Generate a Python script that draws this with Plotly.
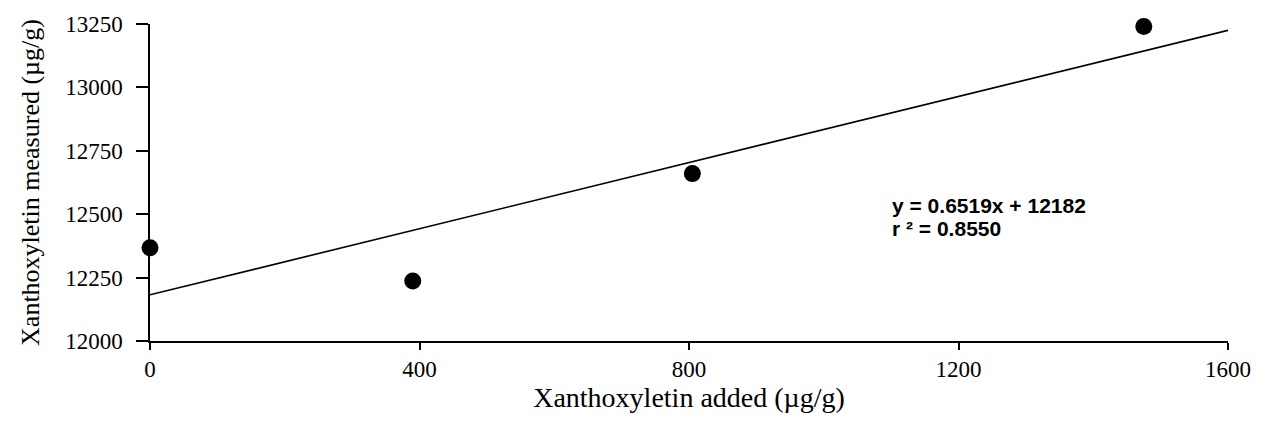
import plotly.graph_objects as go

# Spiked samples: amount of xanthoxyletin added vs. amount measured (µg/g)
added = [0, 390, 805, 1475]
measured = [12368, 12237, 12660, 13240]

# Least-squares fit reported on the chart
slope = 0.6519
intercept = 12182
r_squared = 0.8550
fit_x = [0, 1600]
fit_y = [slope * x + intercept for x in fit_x]

x_ticks = [0, 400, 800, 1200, 1600]
y_ticks = [12000, 12250, 12500, 12750, 13000, 13250]

serif = "Liberation Serif, Times New Roman, serif"
sans = "Liberation Sans, Arial, sans-serif"

fig = go.Figure()
fig.add_trace(go.Scatter(
    x=fit_x, y=fit_y, mode="lines",
    line=dict(color="black", width=1.6),
    hoverinfo="skip", showlegend=False,
))
fig.add_trace(go.Scatter(
    x=added, y=measured, mode="markers",
    marker=dict(color="black", size=17),
    cliponaxis=False, showlegend=False,
))

# Fit equation and coefficient of determination, one line each
eq_font = dict(family=sans, size=21, color="black", weight="bold")
fig.add_annotation(
    x=1098, y=12536, xref="x", yref="y",
    text=f"y = {slope}x + {intercept}",
    showarrow=False, xanchor="left", yanchor="middle", font=eq_font,
)
fig.add_annotation(
    x=1098, y=12443, xref="x", yref="y",
    text=f"r ² = {r_squared:.4f}",
    showarrow=False, xanchor="left", yanchor="middle", font=eq_font,
)

fig.update_layout(
    width=1267, height=441,
    margin=dict(l=150, r=39, t=19, b=100),
    paper_bgcolor="white", plot_bgcolor="white",
    font=dict(family=serif, color="black"),
)
fig.update_xaxes(
    range=[0, 1600], tickvals=x_ticks, ticktext=[str(v) for v in x_ticks],
    showgrid=False, zeroline=False, showline=True, linecolor="black", linewidth=1.5,
    ticks="outside", ticklen=7, tickwidth=1.5, tickcolor="black",
    tickfont=dict(family=serif, size=23),
    title=dict(text="Xanthoxyletin added (µg/g)", font=dict(family=serif, size=28),
               standoff=4),
)
fig.update_yaxes(
    range=[12000, 13250], tickvals=y_ticks, ticktext=[str(v) for v in y_ticks],
    showgrid=False, zeroline=False, showline=True, linecolor="black", linewidth=1.5,
    ticks="outside", ticklen=12, tickwidth=1.5, tickcolor="black",
    ticklabelstandoff=9,
    tickfont=dict(family=serif, size=23),
    title=dict(text="Xanthoxyletin measured (µg/g)", font=dict(family=serif, size=26),
               standoff=18),
)

fig.write_html("out.html")
